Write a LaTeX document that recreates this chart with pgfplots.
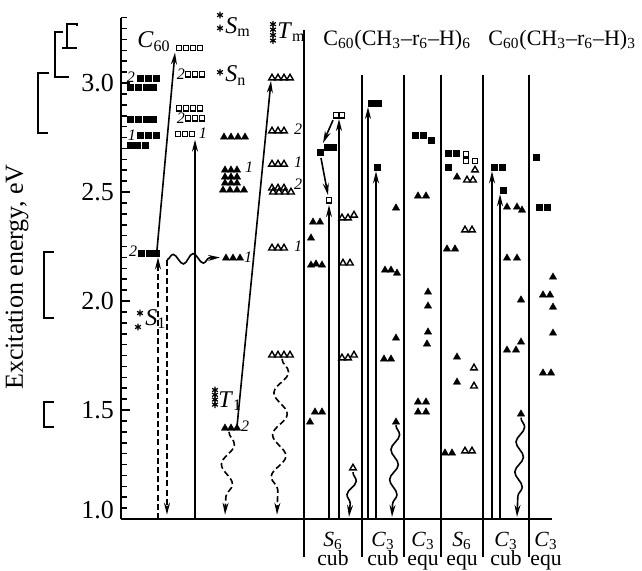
\documentclass[border=0pt]{standalone}
\usepackage{fontspec}
\setmainfont{Liberation Serif}
\usepackage{pgfplots}
\pgfplotsset{compat=1.18}
\usetikzlibrary{arrows.meta,decorations.pathmorphing}
\pgfplotsset{
 fsq/.style={only marks, mark=square*, mark size=1.5pt, mark options={line width=0.2pt}},
 osq/.style={only marks, mark=square, mark size=1.35pt, mark options={line width=0.7pt}},
 ftri/.style={only marks, mark=triangle*, mark size=2.1pt, mark options={line width=0.2pt}},
 otri/.style={only marks, mark=triangle, mark size=1.9pt, mark options={line width=0.7pt}},
 star/.style={only marks, mark=asterisk, mark size=1.7pt, mark options={line width=0.6pt}},
 arr/.style={line width=0.8pt, -{Stealth[length=6pt,width=3pt]}},
 dline/.style={line width=0.8pt, dash pattern=on 3pt off 1.6pt},
 sep/.style={line width=0.6pt},
 brk/.style={line width=1.1pt},
}
\begin{document}
\begin{tikzpicture}[
  lab/.style={font=\fontsize{13}{15}\selectfont, inner sep=0pt},
  lab1/.style={font=\fontsize{12}{14}\selectfont, inner sep=0pt},
  head/.style={font=\fontsize{11}{13}\selectfont, inner sep=0pt},
  lab2/.style={font=\fontsize{10.8}{9.6}\selectfont, inner sep=0pt, align=center, anchor=base},
  num/.style={font=\fontsize{8}{9}\selectfont\itshape, inner sep=0pt},
]
\begin{axis}[
  scale only axis, width=215.5pt, height=250.7pt,
  xmin=121, xmax=552, ymin=1, ymax=3.3,
  axis x line=bottom, axis y line=left,
  x axis line style={line width=1.3pt,-},
  y axis line style={line width=1pt,-},
  xtick=\empty,
  ytick={1.5,2,2.5,3},
  extra y ticks={1},
  extra y tick style={yticklabel style={yshift=4.5pt}},
  minor ytick={1.05,1.1,...,3.31},
  tick align=inside,
  major tick length=4.5pt, minor tick length=3pt,
  every tick/.style={line width=0.8pt, black},
  yticklabel style={font=\fontsize{13}{15}\selectfont},
  /pgf/number format/.cd, fixed, fixed zerofill, precision=1, assume math mode=true,
  /pgfplots/.cd,
  clip=false,
]
\coordinate (bbll) at (axis cs:0,0.766);
\coordinate (bbur) at (axis cs:642,3.381);

% separators
\addplot[sep] coordinates {(304,3.243) (304,0.826)};
\addplot[sep] coordinates {(362,3.037) (362,0.826)};
\addplot[sep] coordinates {(404,3.037) (404,0.826)};
\addplot[sep] coordinates {(441,3.037) (441,0.826)};
\addplot[sep] coordinates {(483,3.037) (483,0.826)};
\addplot[sep] coordinates {(529,3.037) (529,0.826)};

% brackets
\addplot[brk] coordinates {(77,3.261) (77,3.271) (67,3.271) (67,3.161)};
\addplot[brk] coordinates {(62,3.161) (77,3.161)};
\addplot[brk] coordinates {(63,3.234) (55,3.234) (55,3.028) (69,3.028)};
\addplot[brk] coordinates {(49,3.046) (38,3.046) (38,2.771) (48,2.771)};
\addplot[brk] coordinates {(54,2.225) (44,2.225) (44,1.922) (54,1.922)};
\addplot[brk] coordinates {(54,1.537) (44,1.537) (44,1.422) (54,1.422)};

% arrows
\addplot[arr] coordinates {(157,2.234) (175,3.14)};
\addplot[arr] coordinates {(195,1.0) (195,2.74)};
\addplot[arr] coordinates {(237,1.425) (271,3.01)};
\addplot[arr] coordinates {(329,1.0) (329,2.44)};
\addplot[arr] coordinates {(339,1.0) (339,2.835)};
\addplot[arr] coordinates {(333,2.83) (323,2.725)};
\addplot[arr] coordinates {(321,2.656) (328,2.486)};
\addplot[arr] coordinates {(368,1.0) (368,2.89)};
\addplot[arr] coordinates {(376,1.0) (376,2.595)};
\addplot[arr] coordinates {(492,1.0) (492,2.595)};
\addplot[arr] coordinates {(500,1.0) (500,2.49)};
\addplot[dline, -{Stealth[length=6pt,width=3pt]}] coordinates {(158,1.0) (158,2.20)};
\addplot[dline, -{Stealth[length=6pt,width=3pt]}] coordinates {(167,2.19) (167,1.02)};

% wavy arrows
\addplot[line width=0.8pt, -{Stealth[length=6pt,width=3pt]}, decorate, decoration={snake, amplitude=2.5pt, segment length=10pt, post length=3pt}] coordinates {(167,2.19) (220,2.20)};
\addplot[dline, -{Stealth[length=6pt,width=3pt]}, decorate, decoration={snake, amplitude=3pt, segment length=20pt, post length=3pt}] coordinates {(229,1.40) (225,1.02)};
\addplot[dline, -{Stealth[length=6pt,width=3pt]}, decorate, decoration={snake, amplitude=3.5pt, segment length=21pt, post length=3pt}] coordinates {(282,1.735) (277,1.02)};
\addplot[line width=0.8pt, -{Stealth[length=6pt,width=3pt]}, decorate, decoration={snake, amplitude=2pt, segment length=14pt, post length=3pt}] coordinates {(353,1.215) (349,1.01)};
\addplot[line width=0.8pt, -{Stealth[length=6pt,width=3pt]}, decorate, decoration={snake, amplitude=2pt, segment length=15pt, post length=3pt}] coordinates {(396,1.43) (392,1.01)};
\addplot[line width=0.8pt, -{Stealth[length=6pt,width=3pt]}, decorate, decoration={snake, amplitude=2pt, segment length=15pt, post length=3pt}] coordinates {(521,1.465) (517,1.01)};

% filled squares
\addplot[fsq] coordinates {
(140,3.023) (148,3.023) (156,3.023)
(130,2.982) (138,2.982) (146,2.982) (153,2.982)
(130,2.835) (138,2.835) (146,2.835) (153,2.835)
(140,2.761) (148,2.761) (156,2.761)
(130,2.716) (137,2.716) (145,2.716)
(141,2.220) (149,2.220) (156,2.220)
(320,2.683) (327,2.706) (333,2.706)
(371,2.908) (378,2.908) (377,2.615)
(415,2.761) (423,2.761) (431,2.739)
(448,2.679) (456,2.679) (448,2.615)
(494,2.615) (502,2.615) (503,2.509)
(536,2.661) (539,2.431) (547,2.431)
};
% open squares
\addplot[osq] coordinates {
(179,3.161) (186,3.161) (193,3.161) (200,3.161)
(188,3.041) (195,3.041) (202,3.041)
(179,2.885) (186,2.885) (193,2.885) (200,2.885)
(188,2.839) (195,2.839) (202,2.839)
(178,2.766) (185,2.766) (192,2.766)
(336,2.853) (342,2.853) (329,2.463)
(466,2.674) (466,2.642) (475,2.642)
};
% filled triangles
\addplot[ftri] coordinates {
(224,2.752) (231,2.752) (238,2.752) (245,2.752)
(225,2.601) (231,2.601) (237,2.601)
(225,2.569) (231,2.569) (237,2.569)
(225,2.541) (231,2.541) (237,2.541)
(223,2.509) (230,2.509) (237,2.509) (244,2.509)
(226,2.197) (233,2.197) (240,2.197)
(225,1.417) (231,1.417) (237,1.417)
(313,2.362) (320,2.362) (311,2.289) (311,2.165) (316,2.170) (322,2.165)
(310,1.445) (315,1.491) (322,1.491)
(385,2.142) (391,2.142) (397,2.128) (396,2.427) (396,1.830) (384,1.734) (391,1.734) (396,1.445)
(418,2.482) (426,2.482) (428,2.041) (428,1.977) (428,1.858) (427,1.803)
(418,1.537) (426,1.537) (418,1.491) (426,1.491)
(457,2.569) (447,2.239) (455,2.239) (457,1.743) (457,1.628) (445,1.303) (452,1.303)
(507,2.431) (517,2.431) (522,2.417) (507,2.197) (517,2.197) (521,2.005) (521,1.812)
(507,1.775) (516,1.775) (521,1.482)
(553,2.110) (543,2.028) (550,2.028) (553,1.972) (553,1.853) (543,1.670) (551,1.670)
};
% open triangles
\addplot[otri] coordinates {
(272,3.023) (278,3.023) (284,3.023) (290,3.023)
(272,2.780) (278,2.780) (284,2.780)
(272,2.628) (278,2.628) (284,2.628)
(272,2.518) (278,2.518) (284,2.518)
(273,2.500) (279,2.500) (285,2.500) (291,2.500)
(272,2.243) (278,2.243) (284,2.243)
(272,1.752) (278,1.752) (284,1.752) (290,1.752)
(342,2.381) (348,2.381) (354,2.394) (343,2.174) (350,2.174)
(342,1.739) (348,1.739) (354,1.752) (353,1.234)
(467,2.555) (473,2.555) (475,2.601) (465,2.326) (472,2.326)
(474,1.693) (474,1.610) (465,1.312) (472,1.312)
};
% stars
\addplot[star] coordinates {
(220,3.312) (220,3.252) (220,3.050)
(273,3.27) (273,3.245) (273,3.22) (273,3.195)
(140,1.945) (138,1.881)
(215,1.592) (215,1.570) (215,1.548) (215,1.525)
};

% labels
\node[lab, rotate=90] at (axis cs:17,2.11) {Excitation energy, eV};
\node[lab1, anchor=base west] at (axis cs:137,3.161) {\textit{C}\textsubscript{60}};
\node[head, anchor=base west] at (axis cs:323,3.174) {C\textsubscript{60}(CH\textsubscript{3}–r\textsubscript{6}–H)\textsubscript{6}};
\node[head, anchor=base west] at (axis cs:488,3.174) {C\textsubscript{60}(CH\textsubscript{3}–r\textsubscript{6}–H)\textsubscript{3}};
\node[lab1, anchor=base west] at (axis cs:225,3.229) {\textit{S}\textsubscript{m}};
\node[lab1, anchor=base west] at (axis cs:225,3.005) {\textit{S}\textsubscript{n}};
\node[lab1, anchor=base west] at (axis cs:277,3.206) {\textit{T}\textsubscript{m}};
\node[lab1, anchor=base west] at (axis cs:145,1.890) {\textit{S}\textsubscript{1}};
\node[lab1, anchor=base west] at (axis cs:218,1.514) {\textit{T}\textsubscript{1}};

\node[num] at (axis cs:131,3.025) {2};
\node[num] at (axis cs:132,2.761) {1};
\node[num] at (axis cs:133,2.228) {2};
\node[num] at (axis cs:181,3.041) {2};
\node[num] at (axis cs:181,2.839) {2};
\node[num] at (axis cs:203,2.771) {1};
\node[num] at (axis cs:249,2.615) {1};
\node[num] at (axis cs:248,2.202) {1};
\node[num] at (axis cs:245,1.427) {2};
\node[num] at (axis cs:298,2.790) {2};
\node[num] at (axis cs:298,2.637) {1};
\node[num] at (axis cs:298,2.535) {2};
\node[num] at (axis cs:298,2.252) {1};

\node[lab2] at (axis cs:333,0.786) {\textit{S}\textsubscript{6}\\cub};
\node[lab2] at (axis cs:383,0.786) {\textit{C}\textsubscript{3}\\cub};
\node[lab2] at (axis cs:423,0.786) {\textit{C}\textsubscript{3}\\equ};
\node[lab2] at (axis cs:462,0.786) {\textit{S}\textsubscript{6}\\equ};
\node[lab2] at (axis cs:506,0.786) {\textit{C}\textsubscript{3}\\cub};
\node[lab2] at (axis cs:546,0.786) {\textit{C}\textsubscript{3}\\equ};
\end{axis}
\pgfresetboundingbox
\useasboundingbox (bbll) rectangle (bbur);
\end{tikzpicture}
\end{document}
